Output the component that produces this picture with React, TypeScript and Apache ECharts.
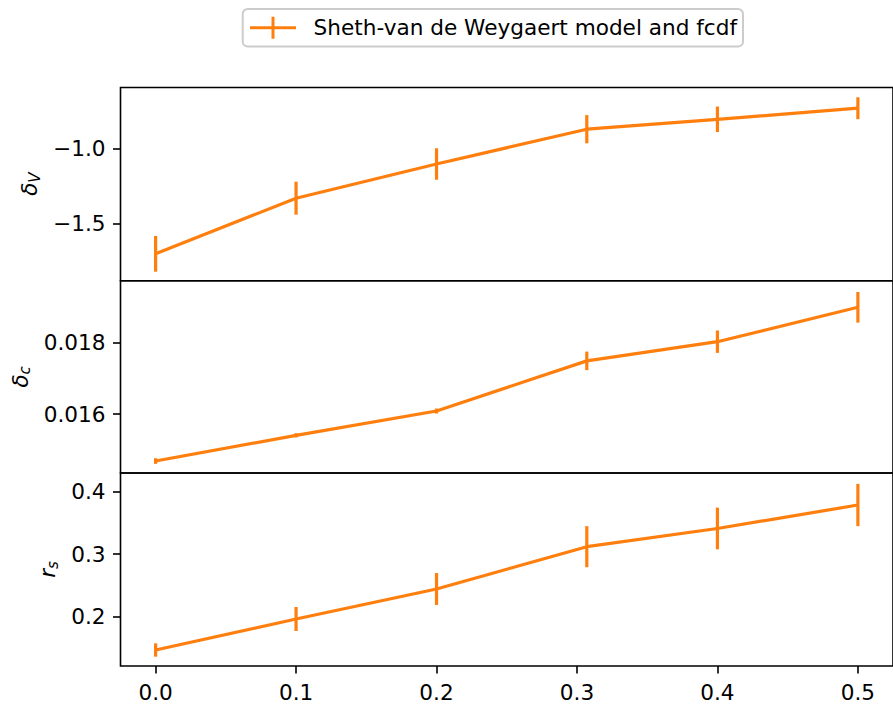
import React, { useEffect, useRef } from "react";
import * as echarts from "echarts";

const xVals = [0.0, 0.1, 0.2, 0.307, 0.4, 0.5];
const deltaVVals = [-1.704, -1.333, -1.105, -0.873, -0.807, -0.733];
const deltaVErr = [0.119, 0.11, 0.105, 0.094, 0.085, 0.073];
const deltaCVals = [0.014682, 0.015403, 0.016084, 0.01749, 0.018028, 0.018992];
const deltaCErr = [0.00008, 0.00006, 0.00007, 0.00026, 0.000314, 0.00043];
const rsVals = [0.1458, 0.1957, 0.244, 0.312, 0.3413, 0.379];
const rsErr = [0.0107, 0.0193, 0.0257, 0.033, 0.0335, 0.034];

const xTicks = [0.0, 0.1, 0.2, 0.3, 0.4, 0.5];
const deltaVTicks = [-1.5, -1.0];
const deltaCTicks = [0.016, 0.018];
const rsTicks = [0.2, 0.3, 0.4];

const seriesName = "Sheth-van de Weygaert model and fcdf";

const ORANGE = "#ff7f0e";
const FONT = "DejaVu Sans";
const FS = 21.6;

export default function App() {
  const ref = useRef<HTMLDivElement>(null);

  useEffect(() => {
    document.body.style.margin = "0";
    if (!ref.current) return;
    const chart = echarts.init(ref.current, undefined, { renderer: "svg" });

    const grids = [
      { left: 120.5, width: 776.5, top: 87.5, height: 193.2 },
      { left: 120.5, width: 776.5, top: 280.7, height: 192.3 },
      { left: 120.5, width: 776.5, top: 473, height: 193 },
    ].map((g) => ({
      ...g,
      show: true,
      borderColor: "#000",
      borderWidth: 1.6,
      backgroundColor: "transparent",
      containLabel: false,
    }));

    const xAxes = [0, 1, 2].map((i) => ({
      type: "value",
      gridIndex: i,
      position: "bottom",
      min: -0.025,
      max: 0.525,
      axisLine: { show: false, onZero: false },
      splitLine: { show: false },
      axisTick: {
        show: i === 2,
        customValues: xTicks,
        length: 7.5,
        lineStyle: { color: "#000", width: 1.6 },
      },
      axisLabel: {
        show: i === 2,
        customValues: xTicks,
        margin: 15,
        fontSize: FS,
        fontFamily: FONT,
        color: "#000",
        formatter: (v: number) => v.toFixed(1),
      },
    }));

    const minus = (s: string) => s.replace("-", "\u2212");

    const mkY = (
      i: number,
      min: number,
      max: number,
      ticks: number[],
      digits: number,
      name: string,
      nameGap: number
    ) => ({
      type: "value",
      gridIndex: i,
      position: "left",
      min,
      max,
      axisLine: { show: false, onZero: false },
      splitLine: { show: false },
      axisTick: {
        show: true,
        customValues: ticks,
        length: 7.5,
        lineStyle: { color: "#000", width: 1.6 },
      },
      axisLabel: {
        customValues: ticks,
        margin: 15,
        fontSize: FS,
        fontFamily: FONT,
        color: "#000",
        formatter: (v: number) => minus(v.toFixed(digits)),
      },
      name,
      nameLocation: "middle",
      nameRotate: 90,
      nameGap,
      nameTextStyle: {
        fontFamily: FONT,
        color: "#000",
        rich: {
          a: { fontSize: FS, fontStyle: "italic", fontFamily: FONT, color: "#000" },
          b: {
            fontSize: 15,
            fontStyle: "italic",
            fontFamily: FONT,
            color: "#000",
            padding: [10, 0, 0, 0],
          },
        },
      },
    });

    const yAxes = [
      mkY(0, -1.883, -0.595, deltaVTicks, 1, "{a|δ}{b|V}", 76.5),
      mkY(1, 0.014346, 0.019738, deltaCTicks, 3, "{a|δ}{b|c}", 84),
      mkY(2, 0.1201, 0.4305, rsTicks, 1, "{a|r}{b|s}", 56.5),
    ];

    const panels = [
      { vals: deltaVVals, errs: deltaVErr },
      { vals: deltaCVals, errs: deltaCErr },
      { vals: rsVals, errs: rsErr },
    ];

    const series: any[] = [];
    panels.forEach((p, i) => {
      series.push({
        type: "line",
        name: seriesName,
        xAxisIndex: i,
        yAxisIndex: i,
        data: xVals.map((x, k) => [x, p.vals[k]]),
        symbol: "none",
        lineStyle: { color: ORANGE, width: 3.2 },
        itemStyle: { color: ORANGE },
        z: 3,
      });
      series.push({
        type: "custom",
        name: "errorbars" + i,
        xAxisIndex: i,
        yAxisIndex: i,
        data: xVals.map((x, k) => [x, p.vals[k], p.errs[k]]),
        encode: { x: 0, y: 1 },
        renderItem: (_params: any, api: any) => {
          const x = api.value(0);
          const y = api.value(1);
          const e = api.value(2);
          const p1 = api.coord([x, y - e]);
          const p2 = api.coord([x, y + e]);
          return {
            type: "line",
            shape: { x1: p1[0], y1: p1[1], x2: p2[0], y2: p2[1] },
            style: { stroke: ORANGE, lineWidth: 3.2 },
          };
        },
        z: 4,
      });
    });

    chart.setOption({
      animation: false,
      backgroundColor: "#fff",
      textStyle: { fontFamily: FONT },
      grid: grids,
      xAxis: xAxes,
      yAxis: yAxes,
      legend: {
        show: true,
        left: 242.7,
        top: 9,
        padding: [7.8, 6, 7.8, 7.3],
        borderColor: "#cccccc",
        borderWidth: 2,
        borderRadius: 5,
        backgroundColor: "#fff",
        itemWidth: 46,
        itemHeight: 22,
        data: [
          {
            name: seriesName,
            icon: "path://M0,9.5h46v3h-46z M21.5,0h3v22h-3z",
            itemStyle: { color: ORANGE },
          },
        ],
        textStyle: {
          fontSize: FS,
          fontFamily: FONT,
          color: "#000",
          padding: [0, 0, 0, 12.6],
        },
      },
      series,
    });

    return () => chart.dispose();
  }, []);

  return <div ref={ref} style={{ width: 893, height: 707 }} />;
}
